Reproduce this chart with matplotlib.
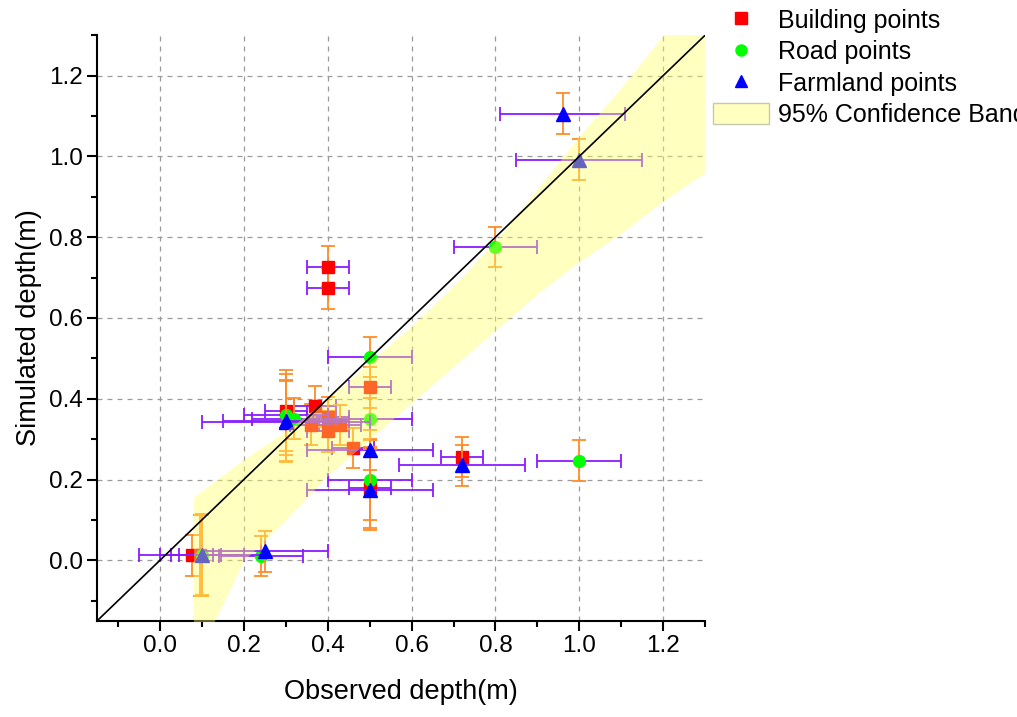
import matplotlib
matplotlib.use("Agg")
import matplotlib.pyplot as plt
from matplotlib.patches import Patch
from matplotlib.lines import Line2D

plt.rcParams['font.family'] = ['Liberation Sans', 'DejaVu Sans']

# ---- data ----
bld_x    = [0.40, 0.40, 0.72, 0.46, 0.50, 0.37, 0.30, 0.36, 0.40, 0.40, 0.43, 0.076, 0.096, 0.50]
bld_y    = [0.727, 0.673, 0.256, 0.278, 0.428, 0.381, 0.370, 0.336, 0.355, 0.319, 0.335, 0.012, 0.012, 0.180]
bld_xerr = [0.05, 0.05, 0.05, 0.05, 0.05, 0.05, 0.05, 0.05, 0.05, 0.05, 0.05, 0.05, 0.05, 0.05]
bld_yerr = [0.05, 0.05, 0.05, 0.05, 0.05, 0.05, 0.10, 0.05, 0.05, 0.05, 0.05, 0.05, 0.10, 0.10]

road_x    = [0.80, 1.00, 0.50, 0.50, 0.50, 0.30, 0.32, 0.24, 0.10]
road_y    = [0.775, 0.247, 0.504, 0.351, 0.199, 0.360, 0.351, 0.011, 0.012]
road_xerr = [0.10, 0.10, 0.10, 0.10, 0.10, 0.10, 0.10, 0.10, 0.10]
road_yerr = [0.05, 0.05, 0.05, 0.05, 0.10, 0.10, 0.05, 0.05, 0.10]

farm_x    = [0.96, 1.00, 0.72, 0.50, 0.50, 0.30, 0.30, 0.25, 0.10]
farm_y    = [1.106, 0.992, 0.235, 0.273, 0.175, 0.346, 0.343, 0.022, 0.014]
farm_xerr = [0.15, 0.15, 0.15, 0.15, 0.15, 0.15, 0.20, 0.15, 0.15]
farm_yerr = [0.05, 0.05, 0.05, 0.05, 0.10, 0.10, 0.10, 0.05, 0.10]

# 95% confidence band edges
band_x  = [0.08, 0.13, 0.20, 0.30, 0.40, 0.50, 0.60, 0.70, 0.80, 0.90, 1.00, 1.10, 1.20, 1.30]
band_lo = [-0.20, -0.15, 0.00, 0.10, 0.21, 0.30, 0.39, 0.48, 0.57, 0.66, 0.74, 0.81, 0.89, 0.96]
band_hi = [0.156, 0.196, 0.25, 0.32, 0.40, 0.49, 0.58, 0.68, 0.79, 0.92, 1.05, 1.17, 1.30, 1.43]

line_x = [-0.15, 1.30]

# ---- colours ----
ORANGE = "#FF8C28"
PURPLE = "#8B1CFF"

fig = plt.figure(figsize=(10.17, 7.17), dpi=100)
ax = fig.add_axes([0.0954, 0.134, 0.598, 0.817])


def series(x, y, xe, ye, marker, color, ms, label, z):
    ax.errorbar(x, y, xerr=xe, fmt="none", ecolor=PURPLE, elinewidth=1.3,
                capsize=5, capthick=1.3, zorder=z)
    ax.errorbar(x, y, yerr=ye, fmt="none", ecolor=ORANGE, elinewidth=1.3,
                capsize=5, capthick=1.3, zorder=z)
    ax.plot(x, y, ls="none", marker=marker, color=color, ms=ms, mec=color,
            label=label, zorder=z + 0.5)


series(bld_x, bld_y, bld_xerr, bld_yerr, "s", "#FF0000", 8, "Building points", 3)
series(road_x, road_y, road_xerr, road_yerr, "o", "#00FF00", 8.5, "Road points", 4)
series(farm_x, farm_y, farm_xerr, farm_yerr, "^", "#0000FF", 9.5, "Farmland points", 5)

ax.fill_between(band_x, band_lo, band_hi, color="#FFFF60", alpha=0.4, lw=0, zorder=6)
ax.plot(line_x, line_x, color="black", lw=1.2, zorder=7)

ax.set_xlim(-0.15, 1.30)
ax.set_ylim(-0.15, 1.30)
ax.set_xticks([0.0, 0.2, 0.4, 0.6, 0.8, 1.0, 1.2])
ax.set_yticks([0.0, 0.2, 0.4, 0.6, 0.8, 1.0, 1.2])
ax.set_xticks([-0.1, 0.1, 0.3, 0.5, 0.7, 0.9, 1.1, 1.3], minor=True)
ax.set_yticks([-0.1, 0.1, 0.3, 0.5, 0.7, 0.9, 1.1, 1.3], minor=True)
ax.tick_params(which="major", direction="out", length=7, width=1.5, labelsize=17.5, pad=3)
ax.tick_params(which="minor", direction="out", length=4, width=1.5)
ax.grid(True, which="major", color="#9a9a9a", ls=(0, (4, 4)), lw=0.9, zorder=0)
ax.set_axisbelow(True)
for s in ("top", "right"):
    ax.spines[s].set_visible(False)
for s in ("left", "bottom"):
    ax.spines[s].set_linewidth(1.5)

ax.set_xlabel("Observed depth(m)", fontsize=19.5, labelpad=16)
ax.set_ylabel("Simulated depth(m)", fontsize=19.5, labelpad=5)

handles = [
    Line2D([], [], ls="none", marker="s", color="#FF0000", ms=8),
    Line2D([], [], ls="none", marker="o", color="#00FF00", ms=8),
    Line2D([], [], ls="none", marker="^", color="#0000FF", ms=9),
    Patch(fc="#FFFFBF", ec="#c8c8b0", lw=1),
]
labels = ["Building points", "Road points", "Farmland points", "95% Confidence Band"]
fig.legend(handles, labels, loc="upper left", bbox_to_anchor=(0.701, 0.988),
           frameon=False, fontsize=18, borderpad=0, borderaxespad=0,
           handlelength=2.24, handleheight=0.9, handletextpad=0.36,
           labelspacing=0.30)

fig.savefig("out.png", dpi=100)
